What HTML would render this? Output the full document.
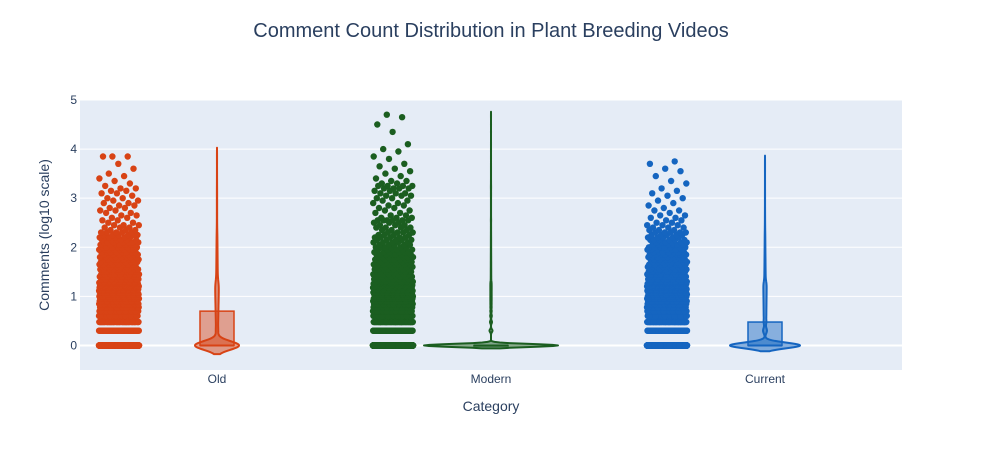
<!DOCTYPE html>
<html><head><meta charset="utf-8">
<style>
body{margin:0;background:#fff;}
svg text{font-family:"Liberation Sans",Arial,sans-serif;}
</style></head>
<body>
<svg id="chart" width="982" height="450" xmlns="http://www.w3.org/2000/svg">
<rect x="80" y="100" width="822" height="270" fill="#e5ecf6"/>
<g id="grid"></g>
<g id="marks"></g>
<g id="axes"></g>
<text x="491" y="37" text-anchor="middle" font-size="20" fill="#2a3f5f">Comment Count Distribution in Plant Breeding Videos</text>
<text x="491" y="411" text-anchor="middle" font-size="14" fill="#2a3f5f">Category</text>
<text transform="translate(49,235) rotate(-90)" text-anchor="middle" font-size="14" fill="#2a3f5f">Comments (log10 scale)</text>
</svg>
<script>
const categories = ["Old","Modern","Current"];
const yTicks = [0,1,2,3,4,5];
// log10 comment values (integers 1..20, then bins 1.35..4.70)
const logValues = [0,0.301,0.477,0.602,0.699,0.778,0.845,0.903,0.954,1.0,1.041,1.079,1.114,1.146,1.176,1.204,1.230,1.255,1.279,1.301,
1.35,1.40,1.45,1.50,1.55,1.60,1.65,1.70,1.75,1.80,1.85,1.90,1.95,2.00,2.05,2.10,2.15,2.20,2.25,2.30,
2.35,2.40,2.45,2.50,2.55,2.60,2.65,2.70,2.75,2.80,2.85,2.90,2.95,3.00,3.05,3.10,3.15,3.20,3.25,3.30,
3.35,3.40,3.45,3.50,3.55,3.60,3.65,3.70,3.75,3.80,3.85,3.90,3.95,4.00,4.05,4.10,4.15,4.20,4.25,4.30,
4.35,4.40,4.45,4.50,4.55,4.60,4.65,4.70];
const oldCounts = [1450,70,50,42,36,32,28,26,24,22,20,19,18,17,16,15,14,14,13,13,
12,12,11,11,10,10,10,9,9,9,8,8,8,7,7,7,6,6,6,5,
3,3,3,2,2,2,2,2,2,2,2,2,2,2,1,2,2,2,1,1,
1,1,1,1,0,1,0,1,0,0,3,0,0,0,0,0,0,0,0,0,
0,0,0,0,0,0,0,0];
const modernCounts = [4000,90,60,48,40,34,30,27,25,22,20,18,17,16,15,14,13,12,12,11,
10,10,9,9,9,8,8,8,7,7,7,6,6,6,5,5,5,5,4,4,
3,4,3,3,6,3,2,2,2,2,2,2,2,2,3,3,2,4,4,2,
2,1,1,1,1,1,1,1,0,1,1,0,1,1,0,1,0,0,0,0,
1,0,0,1,0,0,1,1];
const currentCounts = [1800,100,65,50,42,36,32,28,26,24,22,20,19,18,17,16,15,14,14,13,
12,12,11,11,10,10,9,9,9,8,8,7,7,7,6,6,6,5,5,5,
3,3,3,2,2,2,2,1,2,1,1,1,1,1,1,1,1,1,0,1,
1,0,1,0,1,1,0,1,1,0,0,0,0,0,0,0,0,0,0,0,
0,0,0,0,0,0,0,0];
const seriesCounts = [oldCounts, modernCounts, currentCounts];
const colors = ["#d84315","#1b5e20","#1565c0"];
const violinHalf = [22,67,35];

const NS="http://www.w3.org/2000/svg";
const X0=80,X1=902,Y0=370,Y1=100,ymin=-0.5,ymax=5;
const band=(X1-X0)/categories.length;
const xc=i=>X0+band*(i+0.5);
const ys=v=>Y0-(v-ymin)/(ymax-ymin)*(Y0-Y1);
function mk(t,a,p){const e=document.createElementNS(NS,t);for(const k in a)e.setAttribute(k,a[k]);(p||document.getElementById('marks')).appendChild(e);return e;}

const grid=document.getElementById('grid'),axes=document.getElementById('axes');
yTicks.forEach(t=>{
  const l=mk('line',{x1:X0,x2:X1,y1:ys(t),y2:ys(t),stroke:'#fff','stroke-width':t===0?2:1},grid);
  
  
  const tx=mk('text',{x:X0-3,y:ys(t)+4,'text-anchor':'end','font-size':12,fill:'#2a3f5f'},axes);
  tx.textContent=t;
  
  
});
categories.forEach((c,i)=>{
  const tx=mk('text',{x:xc(i),y:383,'text-anchor':'middle','font-size':12,fill:'#2a3f5f'},axes);
  tx.textContent=c;
  
  
});

function quant(s,p){const h=(s.length-1)*p,lo=Math.floor(h);return s[lo]+(s[Math.min(lo+1,s.length-1)]-s[lo])*(h-lo);}

let k=0;
categories.forEach((c,i)=>{
  const counts=seriesCounts[i];
  const vals=[];
  counts.forEach((n,j)=>{for(let r=0;r<n;r++)vals.push(logValues[j]);});
  vals.sort((a,b)=>a-b);
  const g=mk('g',{});
  
  
  const pg=mk('g',{fill:colors[i]},g);
  
  
  vals.forEach(v=>{
    k++;
    const jit=((k*0.6180339887)%1)-0.5;
    mk('circle',{cx:(xc(i)-98+jit*40).toFixed(1),cy:ys(v).toFixed(1),r:3.2},pg);
  });
  const n=vals.length,mean=vals.reduce((a,b)=>a+b,0)/n;
  const sd=Math.sqrt(vals.reduce((a,b)=>a+(b-mean)*(b-mean),0)/(n-1));
  const q1=quant(vals,0.25),med=quant(vals,0.5),q3=quant(vals,0.75);
  const iqr=q3-q1;
  let bw=iqr>0?0.75*1.059*Math.min(sd,iqr/1.349)*Math.pow(n,-0.2):0.03;
  const lo=vals[0]-2*bw,hi=vals[n-1]+2*bw;
  const uv=[],uw=[];
  counts.forEach((cn,j)=>{if(cn>0){uv.push(logValues[j]);uw.push(cn);}});
  const N=400,dens=[];let dmax=0;
  for(let s=0;s<=N;s++){
    const y=lo+(hi-lo)*s/N;let d=0;
    for(let u=0;u<uv.length;u++){const z=(y-uv[u])/bw;d+=uw[u]*Math.exp(-0.5*z*z);}
    dens.push([y,d]);if(d>dmax)dmax=d;
  }
  const cx=xc(i),hw=violinHalf[i];
  let dstr='';
  dens.forEach(([y,d],s)=>{dstr+=(s?'L':'M')+(cx+d/dmax*hw).toFixed(2)+','+ys(y).toFixed(2);});
  for(let s=dens.length-1;s>=0;s--){const [y,d]=dens[s];dstr+='L'+(cx-d/dmax*hw).toFixed(2)+','+ys(y).toFixed(2);}
  dstr+='Z';
  const vp=mk('path',{d:dstr,fill:colors[i],'fill-opacity':0.5,stroke:colors[i],'stroke-width':2,'stroke-linejoin':'round'},g);
  
  
  const bh=17;
  const bx=mk('rect',{x:cx-bh,y:ys(q3),width:2*bh,height:Math.max(ys(q1)-ys(q3),0.5),fill:colors[i],'fill-opacity':0.45,stroke:colors[i],'stroke-width':1.5},g);
  
  
  const ml=mk('line',{x1:cx-bh,x2:cx+bh,y1:ys(med),y2:ys(med),stroke:colors[i],'stroke-width':2},g);
  
  
});
</script>
</body></html>
